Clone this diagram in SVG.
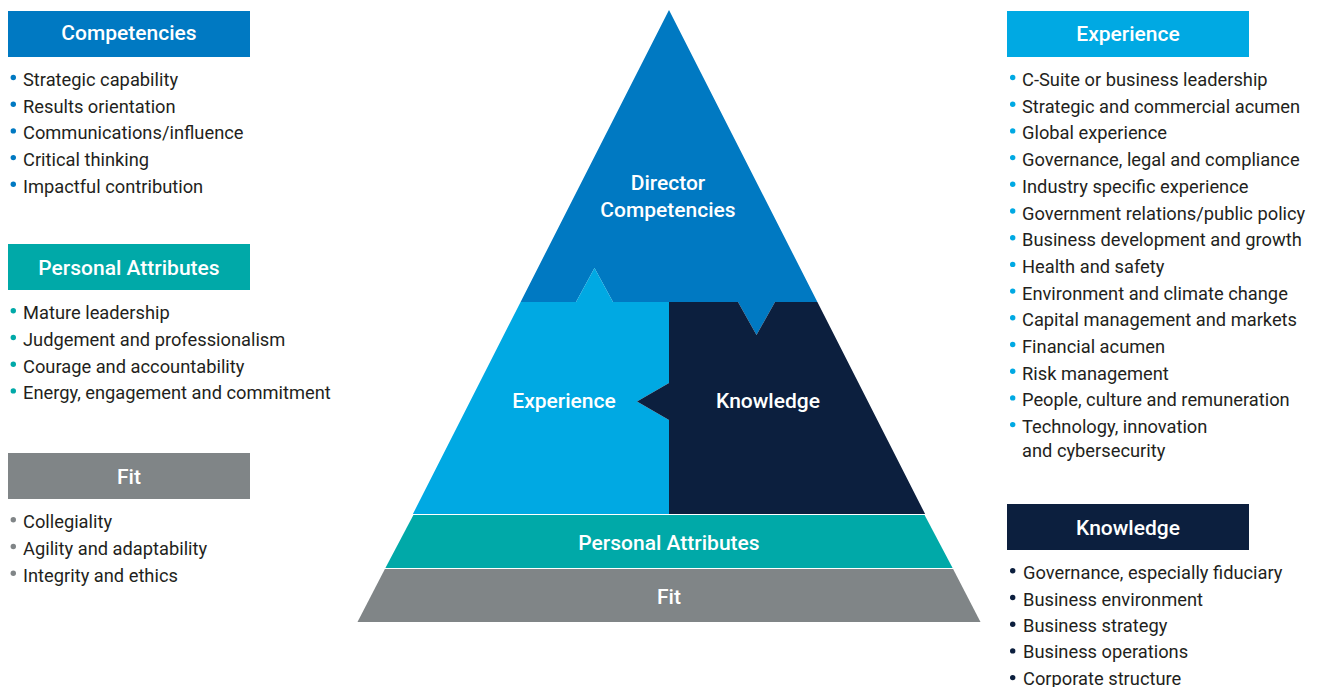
<svg xmlns="http://www.w3.org/2000/svg" width="1320" height="687" viewBox="0 0 1320 687">
<style>
.hd{font-family:Roboto,"Liberation Sans",sans-serif;font-weight:500;font-size:21px;fill:#fff;text-anchor:middle}
.li{font-family:Roboto,"Liberation Sans",sans-serif;font-weight:400;font-size:18.3px;fill:#231f20}
.c-dir{fill:#0079c2}.c-exp{fill:#00a9e3}.c-kno{fill:#0c1f3e}.c-pa{fill:#00a9a8}.c-fit{fill:#808587}
</style>
<rect width="1320" height="687" fill="#fff"/>
<g id="pyramid">
<g id="director"><path class="c-dir" d="M669,10 L817.4,302 L775,302 L756.5,335 L738,302 L613,302 L594.5,268 L576,302 L520.6,302 Z"/>
<text class="hd" x="668" y="190">Director</text><text class="hd" x="668" y="217">Competencies</text></g>
<g id="experience"><path class="c-exp" d="M520.6,302 L576,302 L594.5,268 L613,302 L669,302 L669,383 L637,401.5 L669,420 L669,514 L412.9,514 Z"/>
<text class="hd" x="564" y="408">Experience</text></g>
<g id="knowledge"><path class="c-kno" d="M669,302 L738,302 L756.5,335 L775,302 L817.4,302 L925.1,514 L669,514 L669,420 L637,401.5 L669,383 Z"/>
<text class="hd" x="768" y="408">Knowledge</text></g>
<g id="personal-attributes"><path class="c-pa" d="M413.4,515 L924.6,515 L952.6,568 L385.4,568 Z"/>
<text class="hd" x="669" y="550">Personal Attributes</text></g>
<g id="fit"><path class="c-fit" d="M384.9,569 L953.1,569 L980.5,622 L357.5,622 Z"/>
<text class="hd" x="669" y="604">Fit</text></g>
</g>
<g id="competencies-panel">
<rect class="c-dir" x="8" y="11" width="242" height="46"/>
<text class="hd" x="129" y="40">Competencies</text>
<g class="c-dir"><circle cx="13.3" cy="77.5" r="2.7"/><circle cx="13.3" cy="104.2" r="2.7"/><circle cx="13.3" cy="130.9" r="2.7"/><circle cx="13.3" cy="157.6" r="2.7"/><circle cx="13.3" cy="184.3" r="2.7"/></g>
<text class="li" x="23" y="86">Strategic capability</text>
<text class="li" x="23" y="112.7">Results orientation</text>
<text class="li" x="23" y="139.4">Communications/influence</text>
<text class="li" x="23" y="166.1">Critical thinking</text>
<text class="li" x="23" y="192.8">Impactful contribution</text>
</g>
<g id="personal-attributes-panel">
<rect class="c-pa" x="8" y="244" width="242" height="46"/>
<text class="hd" x="129" y="275">Personal Attributes</text>
<g class="c-pa"><circle cx="13.3" cy="310.8" r="2.7"/><circle cx="13.3" cy="337.5" r="2.7"/><circle cx="13.3" cy="364.2" r="2.7"/><circle cx="13.3" cy="390.9" r="2.7"/></g>
<text class="li" x="23" y="319.3">Mature leadership</text>
<text class="li" x="23" y="346">Judgement and professionalism</text>
<text class="li" x="23" y="372.7">Courage and accountability</text>
<text class="li" x="23" y="399.4">Energy, engagement and commitment</text>
</g>
<g id="fit-panel">
<rect class="c-fit" x="8" y="453" width="242" height="46"/>
<text class="hd" x="129" y="484">Fit</text>
<g class="c-fit"><circle cx="13.3" cy="519.8" r="2.7"/><circle cx="13.3" cy="546.5" r="2.7"/><circle cx="13.3" cy="573.2" r="2.7"/></g>
<text class="li" x="23" y="528.3">Collegiality</text>
<text class="li" x="23" y="555">Agility and adaptability</text>
<text class="li" x="23" y="581.7">Integrity and ethics</text>
</g>
<g id="experience-panel">
<rect class="c-exp" x="1007" y="11" width="242" height="46"/>
<text class="hd" x="1128" y="40.5">Experience</text>
<g class="c-exp"><circle cx="1012.7" cy="77.5" r="2.7"/><circle cx="1012.7" cy="104.2" r="2.7"/><circle cx="1012.7" cy="130.9" r="2.7"/><circle cx="1012.7" cy="157.6" r="2.7"/><circle cx="1012.7" cy="184.3" r="2.7"/><circle cx="1012.7" cy="211" r="2.7"/><circle cx="1012.7" cy="237.7" r="2.7"/><circle cx="1012.7" cy="264.4" r="2.7"/><circle cx="1012.7" cy="291.1" r="2.7"/><circle cx="1012.7" cy="317.8" r="2.7"/><circle cx="1012.7" cy="344.5" r="2.7"/><circle cx="1012.7" cy="371.2" r="2.7"/><circle cx="1012.7" cy="397.9" r="2.7"/><circle cx="1012.7" cy="424.6" r="2.7"/></g>
<text class="li" x="1022" y="86">C-Suite or business leadership</text>
<text class="li" x="1022" y="112.7">Strategic and commercial acumen</text>
<text class="li" x="1022" y="139.4">Global experience</text>
<text class="li" x="1022" y="166.1">Governance, legal and compliance</text>
<text class="li" x="1022" y="192.8">Industry specific experience</text>
<text class="li" x="1022" y="219.5">Government relations/public policy</text>
<text class="li" x="1022" y="246.2">Business development and growth</text>
<text class="li" x="1022" y="272.9">Health and safety</text>
<text class="li" x="1022" y="299.6">Environment and climate change</text>
<text class="li" x="1022" y="326.3">Capital management and markets</text>
<text class="li" x="1022" y="353">Financial acumen</text>
<text class="li" x="1022" y="379.7">Risk management</text>
<text class="li" x="1022" y="406.4">People, culture and remuneration</text>
<text class="li" x="1022" y="433.1">Technology, innovation</text>
<text class="li" x="1022" y="457.1">and cybersecurity</text>
</g>
<g id="knowledge-panel">
<rect class="c-kno" x="1007" y="504" width="242" height="46"/>
<text class="hd" x="1128" y="535">Knowledge</text>
<g class="c-kno"><circle cx="1012.7" cy="570.8" r="2.7"/><circle cx="1012.7" cy="597.5" r="2.7"/><circle cx="1012.7" cy="624.2" r="2.7"/><circle cx="1012.7" cy="650.9" r="2.7"/><circle cx="1012.7" cy="677.6" r="2.7"/></g>
<text class="li" x="1023" y="579.3">Governance, especially fiduciary</text>
<text class="li" x="1023" y="605.5">Business environment</text>
<text class="li" x="1023" y="632">Business strategy</text>
<text class="li" x="1023" y="658">Business operations</text>
<text class="li" x="1023" y="684.5">Corporate structure</text>
</g>
</svg>
